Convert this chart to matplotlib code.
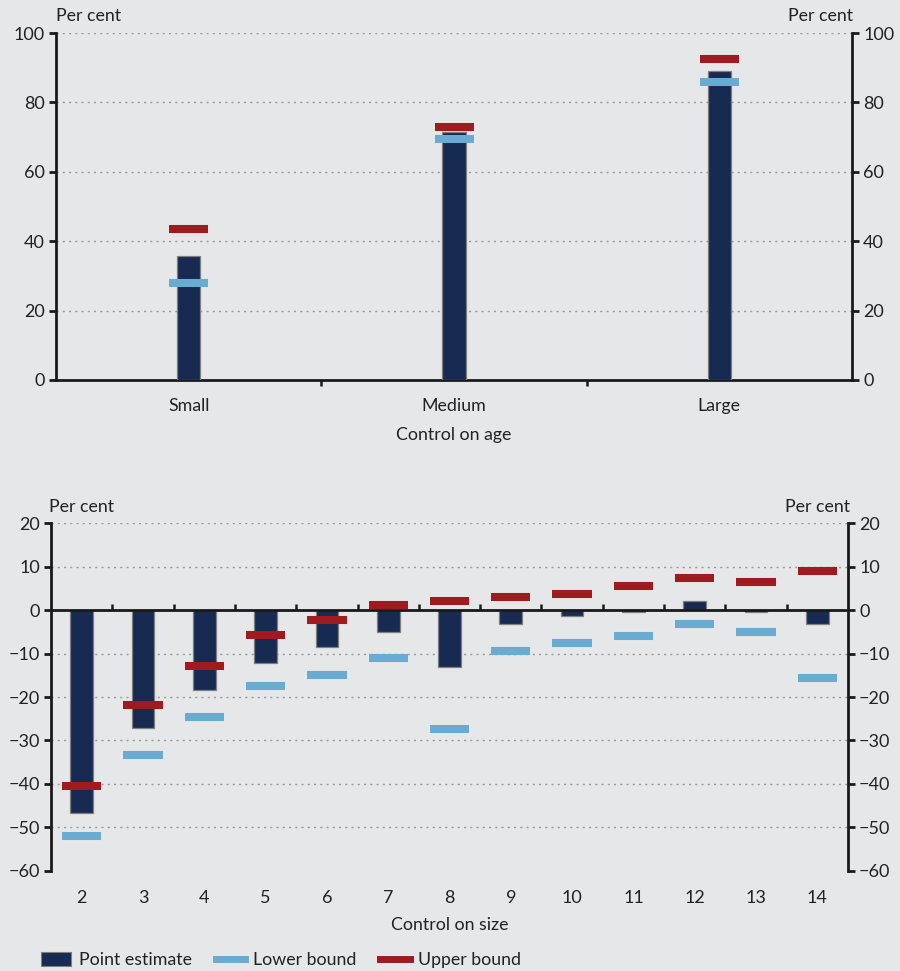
import matplotlib
matplotlib.use("Agg")
import matplotlib.pyplot as plt
import numpy as np
from matplotlib.patches import Patch
from matplotlib.lines import Line2D

plt.rcParams['font.family'] = ['Lato', 'DejaVu Sans']

# ---------------- data ----------------
age_cats = ["Small", "Medium", "Large"]
age_point = [35.8, 71.4, 89.0]
age_lower = [28.0, 69.4, 85.9]
age_upper = [43.5, 72.9, 92.5]

size_cats = ["2", "3", "4", "5", "6", "7", "8", "9", "10", "11", "12", "13", "14"]
size_point = [-46.6, -27.2, -18.3, -12.1, -8.5, -5.0, -13.0, -3.2, -1.4, -0.3, 2.1, -0.3, -3.2]
size_lower = [-51.9, -33.4, -24.7, -17.4, -14.9, -11.1, -27.3, -9.3, -7.6, -5.9, -3.2, -5.1, -15.6]
size_upper = [-40.4, -21.9, -12.8, -5.8, -2.3, 1.15, 2.2, 3.1, 3.8, 5.7, 7.4, 6.5, 9.1]

age_yticks = [0, 20, 40, 60, 80, 100]
size_yticks = [20, 10, 0, -10, -20, -30, -40, -50, -60]

# ---------------- style ----------------
BG = "#e6e7e9"
NAVY = "#172a52"
LBLUE = "#6aabd2"
RED = "#9e1b20"
TXT = "#222222"
FS = 13
WFS = 12.8

fig = plt.figure(figsize=(9, 9.71), dpi=100, facecolor=BG)


def fmt(v):
    return str(v).replace("-", "\u2212")


def style_axes(ax, yticks, ylim, ncat, bar_w, mark_w, xs, pt, lo, up, cats, xlabel, mark_lw, xfs):
    ax.set_facecolor(BG)
    ax.set_xlim(-0.5, ncat - 0.5)
    ax.set_ylim(*ylim)
    ax.bar(xs, pt, width=bar_w, color=NAVY, edgecolor="#7f7f7f", linewidth=0.9, zorder=3)
    ax.hlines(lo, xs - mark_w / 2, xs + mark_w / 2, color=LBLUE, lw=mark_lw, zorder=4)
    ax.hlines(up, xs - mark_w / 2, xs + mark_w / 2, color=RED, lw=mark_lw, zorder=4)
    ax.set_yticks(yticks)
    ax.set_yticklabels([fmt(v) for v in yticks], fontsize=FS, color=TXT)
    for v in yticks:
        if v not in (0, ylim[0]):
            ax.axhline(v, color="#9a9a9a", lw=1.0, ls=(0, (1.5, 3)), zorder=1)
    ax.spines['top'].set_visible(False)
    ax.spines['right'].set_visible(False)
    ax.spines['left'].set_linewidth(2.0)
    ax.spines['left'].set_color("#1a1a1a")
    ax.tick_params(axis='y', direction='out', length=5, width=2, color="#1a1a1a", pad=3)
    ax.set_xticks(xs)
    ax.set_xticklabels(cats, fontsize=xfs, color=TXT)
    ax.set_xlabel(xlabel, fontsize=WFS, color=TXT, labelpad=8)
    ax2 = ax.twinx()
    ax2.set_ylim(*ylim)
    ax2.set_yticks(yticks)
    ax2.set_yticklabels([fmt(v) for v in yticks], fontsize=FS, color=TXT)
    ax2.spines['top'].set_visible(False)
    ax2.spines['left'].set_visible(False)
    ax2.spines['bottom'].set_visible(False)
    ax2.spines['right'].set_linewidth(2.0)
    ax2.spines['right'].set_color("#1a1a1a")
    ax2.tick_params(axis='y', direction='out', length=5, width=2, color="#1a1a1a", pad=3)
    return ax2


# ---------------- top panel ----------------
ax1 = fig.add_axes([0.0622, 0.6087, 0.8845, 0.3573])
x1 = np.arange(len(age_cats))
style_axes(ax1, age_yticks, (0, 100), len(age_cats), 0.087, 0.147, x1,
           age_point, age_lower, age_upper, age_cats, "Control on age", 5.8, WFS)
ax1.spines['bottom'].set_linewidth(2.0)
ax1.spines['bottom'].set_color("#1a1a1a")
ax1.tick_params(axis='x', which='major', length=0, pad=13)
ax1.xaxis.labelpad = 9.5
ax1.set_xticks(np.arange(len(age_cats) - 1) + 0.5, minor=True)
ax1.tick_params(axis='x', which='minor', length=4, width=1.8, color="#1a1a1a", direction='out')
ax1.text(0.0, 1.025, "Per cent", transform=ax1.transAxes, ha='left', va='bottom',
         fontsize=WFS, color=TXT)
ax1.text(1.002, 1.025, "Per cent", transform=ax1.transAxes, ha='right', va='bottom',
         fontsize=WFS, color=TXT)

# ---------------- bottom panel ----------------
ax3 = fig.add_axes([0.0567, 0.1033, 0.8855, 0.3576])
x3 = np.arange(len(size_cats))
ylim3 = (-60, 20)
style_axes(ax3, size_yticks, ylim3, len(size_cats), 0.37, 0.64, x3,
           size_point, size_lower, size_upper, size_cats, "Control on size", 5.8, FS)
ax3.spines['bottom'].set_visible(False)
ax3.tick_params(axis='x', which='major', length=0, pad=14)
ax3.xaxis.labelpad = 7.5
zero_pos = (0 - ylim3[0]) / (ylim3[1] - ylim3[0])
sec = ax3.secondary_xaxis(zero_pos)
sec.set_xticks(np.arange(len(size_cats) - 1) + 0.5)
sec.set_xticklabels([])
sec.tick_params(axis='x', length=4, width=1.8, color="#1a1a1a", direction='out')
sec.spines['bottom'].set_linewidth(2.0)
sec.spines['bottom'].set_color("#1a1a1a")
ax3.axhline(0, color="#1a1a1a", lw=2.0, zorder=5)
ax3.text(-0.003, 1.025, "Per cent", transform=ax3.transAxes, ha='left', va='bottom',
         fontsize=WFS, color=TXT)
ax3.text(1.003, 1.025, "Per cent", transform=ax3.transAxes, ha='right', va='bottom',
         fontsize=WFS, color=TXT)

# ---------------- legend ----------------
handles = [Patch(facecolor=NAVY, edgecolor="#7f7f7f", linewidth=0.8),
           Line2D([0], [0], color=LBLUE, lw=5),
           Line2D([0], [0], color=RED, lw=5)]
labels = ["Point estimate", "Lower bound", "Upper bound"]
leg = fig.legend(handles, labels, loc='lower left', bbox_to_anchor=(0.032, -0.010), ncol=3,
                 frameon=False, prop={'size': WFS},
                 handlelength=1.65, handleheight=0.8, borderpad=0.2,
                 handletextpad=0.45, columnspacing=1.35)
for t in leg.get_texts():
    t.set_color(TXT)

fig.savefig("out.png", dpi=100, facecolor=BG)
